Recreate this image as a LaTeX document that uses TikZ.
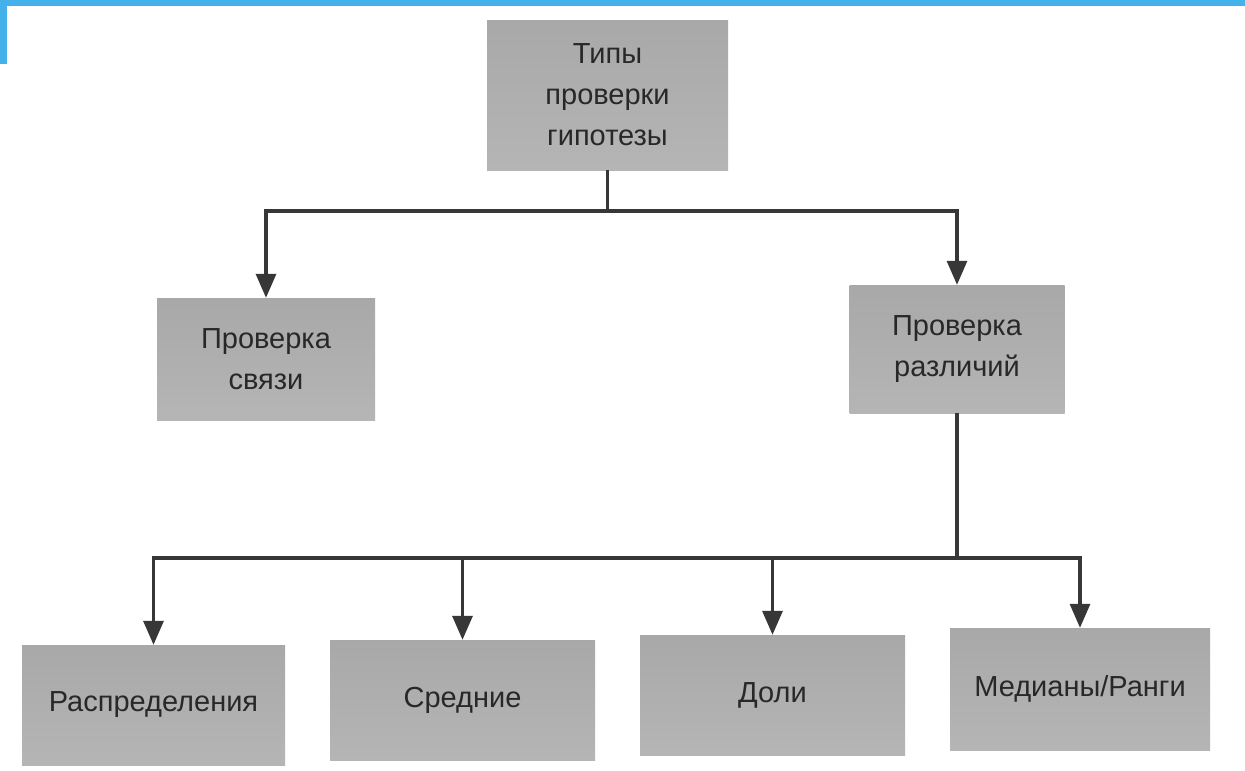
\documentclass[tikz,border=0pt]{standalone}
\usepackage{fontspec}
\setmainfont{Liberation Sans}
\usetikzlibrary{arrows.meta}
\definecolor{slideblue}{RGB}{69,177,234}
\definecolor{ink}{RGB}{55,55,55}
\definecolor{txt}{RGB}{40,40,40}
\begin{document}
\begin{tikzpicture}[x=1pt,y=-1pt,
  box/.style={shading=axis, top color=black!34, bottom color=black!29, shading angle=0,
    inner sep=0pt, align=center, text=txt,
    font=\fontsize{29}{41}\selectfont},
  conn/.style={draw=ink, line width=3.2pt},
  arr/.style={conn, -{Triangle[width=20pt,length=24pt]}}]
\useasboundingbox (0,0) rectangle (1245,771);
\fill[white] (0,0) rectangle (1245,771);
\fill[slideblue] (0,0) rectangle (1245,6);
\fill[slideblue] (0,0) rectangle (7,64);

\node[box, minimum width=241pt, minimum height=150pt] (top) at (607.5,95) {Типы\\проверки\\гипотезы};
\node[box, minimum width=218pt, minimum height=122pt] (svy) at (266,359) {Проверка\\связи};
\node[box, minimum width=215pt, minimum height=128pt] (raz) at (957,349) {Проверка\\различий};
\node[box, minimum width=263pt, minimum height=120pt] (b1) at (153.5,705) {Распределения};
\node[box, minimum width=265pt, minimum height=120pt] (b2) at (462.5,700) {Средние};
\node[box, minimum width=265pt, minimum height=120pt] (b3) at (772.5,695) {Доли};
\node[box, minimum width=260pt, minimum height=122pt] (b4) at (1080,689) {Медианы/Ранги};

\coordinate (j1) at (607.5,211);
\coordinate (j2) at (957,558);
\draw[conn] (top.south) -- (j1);
\draw[arr] (j1) -| (svy.north);
\draw[arr] (j1) -| (raz.north);
\draw[conn] (raz.south) -- (j2);
\draw[arr] (j2) -| (b1.north);
\draw[arr] (j2) -| (b2.north);
\draw[arr] (j2) -| (b3.north);
\draw[arr] (j2) -| (b4.north);
\end{tikzpicture}
\end{document}
